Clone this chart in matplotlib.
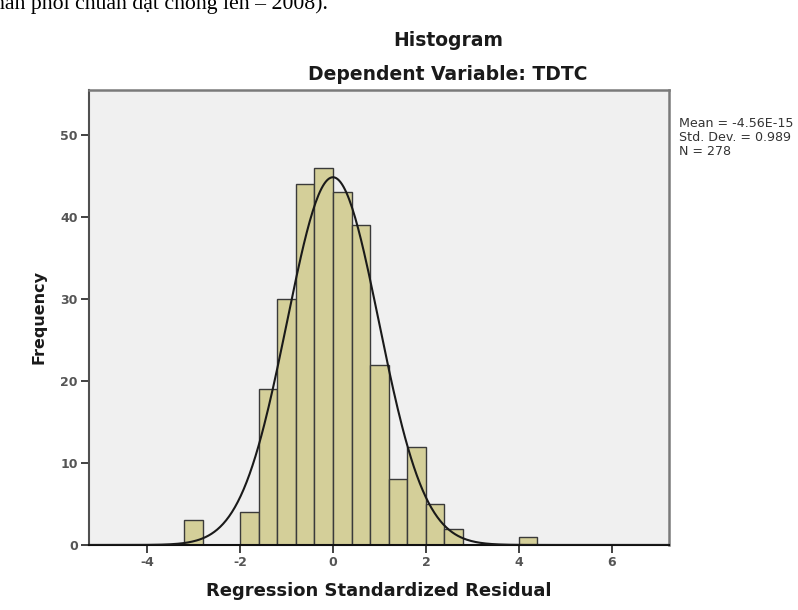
import matplotlib
matplotlib.use("Agg")
import matplotlib.pyplot as plt
import numpy as np

# histogram of regression standardized residuals (bin width 0.4)
bin_left = [-3.2, -2.0, -1.6, -1.2, -0.8, -0.4, 0.0, 0.4, 0.8, 1.2, 1.6, 2.0, 2.4, 4.0]
counts = [3, 4, 19, 30, 44, 46, 43, 39, 22, 8, 12, 5, 2, 1]
bin_width = 0.4

mean = -4.56e-15
std_dev = 0.989
n_obs = 278

x_ticks = [-4, -2, 0, 2, 4, 6]
y_ticks = [0, 10, 20, 30, 40, 50]

fig = plt.figure(figsize=(7.98, 6.10), dpi=100)
fig.patch.set_facecolor('white')
ax = fig.add_axes([0.1115, 0.1066, 0.7268, 0.7459])
ax.set_facecolor('#F0F0F0')

ax.bar(bin_left, counts, width=bin_width, align='edge',
       color='#D4CF99', edgecolor='#3a3a3a', linewidth=1.0, zorder=2)

# normal curve from the reported mean / std. dev.
xs = np.linspace(-5.3, 7.3, 400)
ys = n_obs * bin_width / (std_dev * np.sqrt(2 * np.pi)) * np.exp(-0.5 * ((xs - mean) / std_dev) ** 2)
ax.plot(xs, ys, color='#1a1a1a', linewidth=1.5, zorder=3)

ax.set_xlim(-5.25, 7.23)
ax.set_ylim(0, 55.5)
ax.set_xticks(x_ticks)
ax.set_yticks(y_ticks)
ax.set_xticklabels([str(v) for v in x_ticks])
ax.set_yticklabels([str(v) for v in y_ticks])
ax.tick_params(axis='both', direction='out', length=6, width=1.3, color='#333333',
               labelsize=9, labelcolor='#555555', pad=2)
for lab in ax.get_xticklabels() + ax.get_yticklabels():
    lab.set_fontweight('bold')

for side in ['top', 'right']:
    ax.spines[side].set_color('#7a7a7a')
    ax.spines[side].set_linewidth(1.8)
ax.spines['left'].set_color('#505050')
ax.spines['left'].set_linewidth(1.5)
ax.spines['bottom'].set_color('#111111')
ax.spines['bottom'].set_linewidth(1.5)

ax.set_xlabel('Regression Standardized Residual', fontsize=13, fontweight='bold',
              color='#1a1a1a', labelpad=9)
ax.set_ylabel('Frequency', fontsize=11.5, fontweight='bold', color='#1a1a1a', labelpad=10)

fig.text(448 / 798, 1 - 40 / 610, 'Histogram', ha='center', va='center',
         fontsize=13.5, fontweight='bold', color='#1a1a1a')
fig.text(448 / 798, 1 - 75 / 610, 'Dependent Variable: TDTC', ha='center', va='center',
         fontsize=13.5, fontweight='bold', color='#1a1a1a')

fig.text(679 / 798, 1 - 117 / 610,
         'Mean = -4.56E-15\nStd. Dev. = 0.989\nN = ' + str(n_obs),
         ha='left', va='top', fontsize=9.1, color='#333333', linespacing=1.1)

# document text cut off above the chart
fig.text(-6 / 798, 1 - 9 / 610, 'hân phối chuẩn đạt chồng lên – 2008).',
         ha='left', va='baseline', fontsize=15.7, family='Liberation Serif', color='black')

fig.savefig('out.png', dpi=100)
